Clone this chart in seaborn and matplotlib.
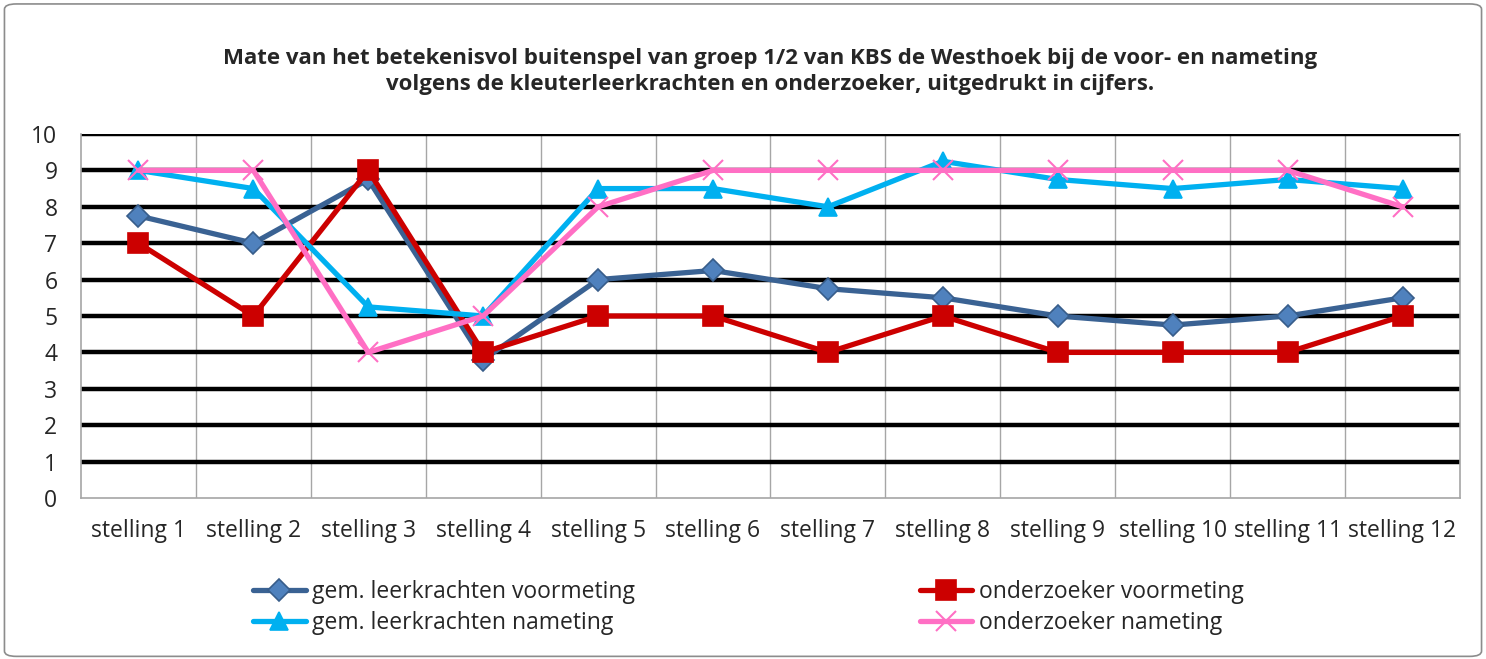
import matplotlib
matplotlib.use("Agg")
import matplotlib.pyplot as plt
from matplotlib.patches import FancyBboxPatch
import seaborn as sns
import numpy as np

categories = [f"stelling {i}" for i in range(1, 13)]
gem_voormeting = [7.75, 7, 8.75, 3.8, 6, 6.25, 5.75, 5.5, 5, 4.75, 5, 5.5]
onderzoeker_voormeting = [7, 5, 9, 4, 5, 5, 4, 5, 4, 4, 4, 5]
gem_nameting = [9, 8.5, 5.25, 5, 8.5, 8.5, 8, 9.25, 8.75, 8.5, 8.75, 8.5]
onderzoeker_nameting = [9, 9, 4, 5, 8, 9, 9, 9, 9, 9, 9, 8]
yticks = list(range(0, 11))

title = ("Mate van het betekenisvol buitenspel van groep 1/2 van KBS de Westhoek bij de voor- en nameting\n"
         "volgens de kleuterleerkrachten en onderzoeker, uitgedrukt in cijfers.")

sns.set_theme(style="white")
plt.rcParams['font.family'] = ['Open Sans', 'DejaVu Sans']

fig = plt.figure(figsize=(14.86, 6.59), dpi=100)
ax = fig.add_axes([0.0545, 0.2443, 0.928, 0.5524])

x = np.arange(len(categories))
series = [
    ("gem. leerkrachten voormeting", gem_voormeting, "#3A6293", "D", "#4F81BD", "#385D8A", 11),
    ("onderzoeker voormeting", onderzoeker_voormeting, "#CC0000", "s", "#CC0000", "#CC0000", 14),
    ("gem. leerkrachten nameting", gem_nameting, "#00B0F0", "^", "#00B0F0", "#00B0F0", 13),
    ("onderzoeker nameting", onderzoeker_nameting, "#FF6FC4", "x", "#FF6FC4", "#FF6FC4", 14),
]
for i, (lab, vals, col, mk, fc, ec, ms) in enumerate(series):
    sns.lineplot(x=x, y=vals, ax=ax, color=col, lw=3.8, marker=mk, markersize=ms,
                 markerfacecolor=fc, markeredgecolor=ec, markeredgewidth=1.2 if mk != "x" else 1.5,
                 label=lab, zorder=5 + i)

ax.set_xlim(-0.5, len(categories) - 0.5)
ax.set_ylim(0, 10)
ax.set_yticks(yticks)
ax.set_yticklabels([str(v) for v in yticks], fontsize=16.5)
ax.set_xticks(x)
ax.set_xticklabels(categories, fontsize=16.5)
ax.tick_params(axis='x', length=0, pad=15)
ax.tick_params(axis='y', length=0, pad=17)

for v in yticks[1:]:
    ax.axhline(v, color="black", lw=3.2, zorder=2)
for b in np.arange(0.5, len(categories) - 0.5, 1):
    ax.axvline(b, color="#A6A6A6", lw=1, zorder=1)
for s in ax.spines.values():
    s.set_color("#A6A6A6")
    s.set_linewidth(1.2)
ax.spines['top'].set_visible(False)

ax.set_title(title, fontsize=16, fontweight='bold', pad=32, linespacing=1.3)

h, l = ax.get_legend_handles_labels()
order = [0, 2, 1, 3]
ax.legend([h[i] for i in order], [l[i] for i in order], ncol=2, loc="upper center",
          bbox_to_anchor=(0.484, -0.195), frameon=False, fontsize=16.5, handlelength=2.3,
          handletextpad=0.3, columnspacing=12.4, labelspacing=0.3, borderpad=0)

fig.patches.append(FancyBboxPatch((0.003, 0.004), 0.994, 0.99, boxstyle="round,pad=0,rounding_size=0.008",
                                  transform=fig.transFigure, fill=False, edgecolor="#8C8C8C", lw=1.2))

fig.savefig("out.png", dpi=100)
